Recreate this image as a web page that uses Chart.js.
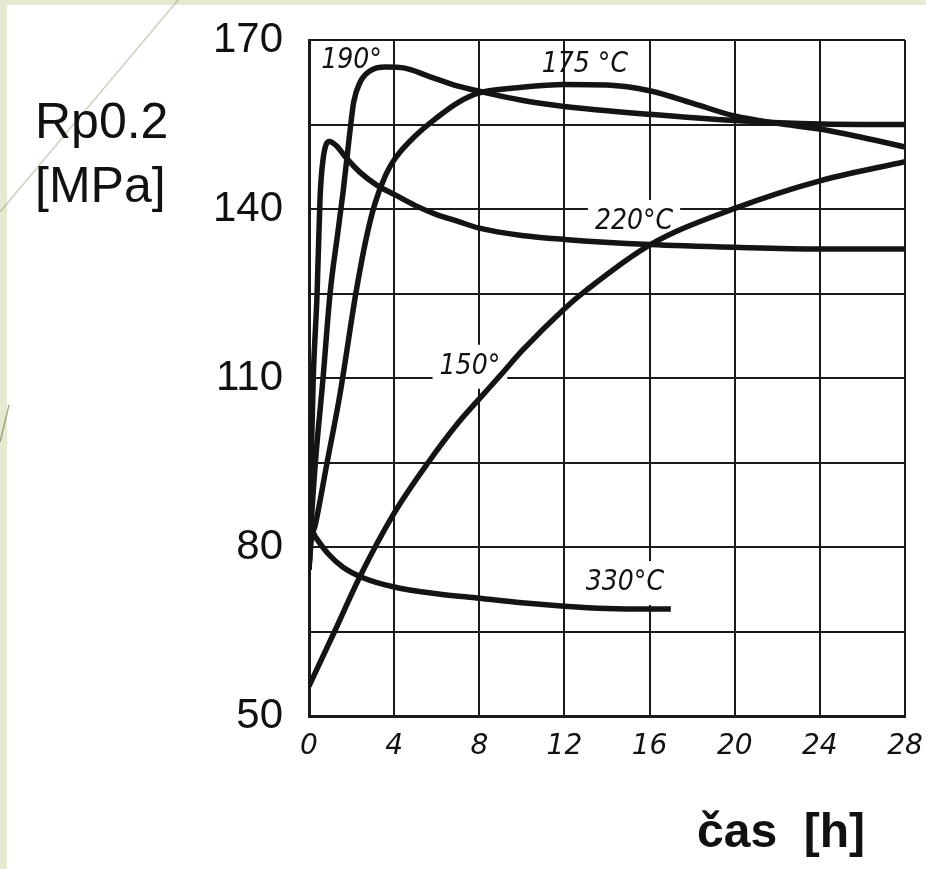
<!DOCTYPE html>
<html>
<head>
<meta charset="utf-8">
<script src="https://cdn.jsdelivr.net/npm/chart.js@4.4.1/dist/chart.umd.min.js"></script>
<style>
  html, body { margin: 0; padding: 0; background: #fff; }
  body { width: 926px; height: 869px; position: relative; overflow: hidden; font-family: 'Liberation Sans', Arial, sans-serif; }
  .pasek-l { position: absolute; left: 0; top: 0; width: 7px; height: 869px; background: #e6ead2; }
  .pasek-h { position: absolute; left: 0; top: 0; width: 926px; height: 5px; background: #e6ead2; }
  #deko { position: absolute; left: 0; top: 0; }
  #graf { position: absolute; left: 0; top: 0; }
  .popis { position: absolute; color: #111; white-space: pre; }
</style>
</head>
<body>
<div class="pasek-l"></div>
<div class="pasek-h"></div>
<svg id="deko" width="926" height="869">
  <line x1="178" y1="0" x2="0" y2="212" stroke="rgba(120,118,80,0.35)" stroke-width="1.5"/>
  <line x1="9" y1="405" x2="0" y2="442" stroke="rgba(120,118,80,0.6)" stroke-width="1.5"/>
</svg>
<canvas id="graf" width="926" height="869"></canvas>
<div class="popis" style="left:35px;top:96px;font-size:50px;line-height:50px">Rp0.2</div>
<div class="popis" style="left:35px;top:160px;font-size:50px;line-height:50px">[MPa]</div>
<div class="popis" style="left:697px;top:807px;font-size:48px;line-height:48px;font-weight:bold">čas  [h]</div>
<script>
// cas [h] a Rp0.2 [MPa], pro kazdou teplotu zvlast
const cas150 = [0, 1.2, 2.4, 4, 5.6, 7, 8, 9, 10, 12, 13, 16, 20, 24, 28];
const rp150 = [55.3, 65, 74.8, 86, 95, 102, 106.3, 110.5, 114.8, 122.3, 125.5, 133.6, 140.1, 145, 148.4];

const cas175 = [0, 0.1, 0.3, 0.85, 1.45, 2.2, 2.7, 3.1, 3.6, 4.05, 5, 6, 7, 8, 10, 12, 14, 16, 18, 20, 22, 24, 26, 28];
const rp175 = [76, 81, 84, 95, 107, 125, 135, 141, 146, 149, 153, 156.2, 158.9, 160.6, 161.6, 162.1, 162, 161, 158.8, 156.5, 155.2, 154.2, 152.7, 151];

const cas190 = [0, 0.1, 0.3, 0.66, 0.99, 1.36, 1.6, 1.9, 2.1, 2.4, 2.86, 3.6, 4.5, 5.6, 7, 8, 10, 12, 16, 20, 24, 28];
const rp190 = [76, 84, 95, 110, 125, 136, 143, 153, 159, 162.5, 164.5, 165.2, 165, 163.6, 161.8, 160.9, 159.3, 158.2, 156.8, 155.7, 155.1, 155];

const cas220 = [0, 0.05, 0.1, 0.2, 0.38, 0.52, 0.65, 0.95, 1.3, 1.7, 2.4, 3.2, 4, 5, 6, 7, 8, 10, 12, 16, 20, 24, 28];
const rp220 = [76, 85, 95, 110, 125, 142, 148.5, 152, 151.2, 149.3, 146.5, 144.2, 142.6, 140.6, 139, 137.8, 136.6, 135.3, 134.6, 133.7, 133.2, 132.9, 132.9];

const cas330 = [0, 0.1, 0.3, 0.9, 1.6, 2.5, 4, 6, 8, 10, 12, 14, 16, 17];
const rp330 = [76, 83, 81.8, 78.8, 76.4, 74.6, 72.9, 71.7, 70.9, 70.1, 69.5, 69.1, 69, 69];

const osaX = [0, 28];
const osaY = [50, 170];
const popisky = [
  { text: '190°', x: 2.0, y: 166.3, pozadi: false },
  { text: '175 °C', x: 12.96, y: 165.7, pozadi: false },
  { text: '220°C', x: 15.27, y: 137.7, pozadi: true },
  { text: '150°', x: 7.56, y: 112.0, pozadi: true },
  { text: '330°C', x: 14.84, y: 73.6, pozadi: true }
];

const krivky = [
  [cas150, rp150], [cas175, rp175], [cas190, rp190], [cas220, rp220], [cas330, rp330]
];

const popiskyPlugin = {
  id: 'popisky',
  beforeDatasetsDraw(chart) {
    const { ctx, scales: { x, y } } = chart;
    ctx.save();
    ctx.font = 'italic 28px "DejaVu Sans Condensed", "DejaVu Sans"';
    ctx.textAlign = 'center';
    ctx.textBaseline = 'middle';
    popisky.forEach(p => {
      const px = x.getPixelForValue(p.x);
      const py = y.getPixelForValue(p.y);
      if (p.pozadi) {
        const w = ctx.measureText(p.text).width + 14;
        ctx.fillStyle = '#fff';
        ctx.fillRect(px - w / 2, py - 22, w, 44);
      }
      ctx.fillStyle = '#111';
      ctx.fillText(p.text, px, py);
    });
    ctx.restore();
  }
};

const cara = '#1a1a1a';

new Chart(document.getElementById('graf'), {
  type: 'line',
  data: {
    datasets: krivky.map(([c, r]) => ({
      data: c.map((t, i) => ({ x: t, y: r[i] })),
      borderColor: '#141414',
      borderWidth: 5.5,
      pointRadius: 0,
      fill: false,
      cubicInterpolationMode: 'monotone'
    }))
  },
  options: {
    responsive: false,
    animation: false,
    layout: { padding: { top: 40, right: 21, left: 0, bottom: 0 } },
    plugins: { legend: { display: false }, tooltip: { enabled: false } },
    scales: {
      x: {
        type: 'linear',
        min: osaX[0],
        max: osaX[1],
        ticks: {
          stepSize: 4,
          autoSkip: false,
          maxRotation: 0,
          color: '#111',
          padding: 14,
          font: { family: 'DejaVu Sans', style: 'italic', size: 28 }
        },
        grid: { color: cara, lineWidth: 2, drawTicks: false },
        border: { color: cara, width: 3 },
        afterFit: s => { s.height = 153; s.paddingLeft = 0; s.paddingRight = 0; }
      },
      y: {
        type: 'linear',
        min: osaY[0],
        max: osaY[1],
        ticks: {
          stepSize: 15,
          autoSkip: false,
          color: '#111',
          padding: 26,
          font: { family: 'Liberation Sans', size: 42 },
          callback: v => ((v - 50) % 30 === 0 ? v : '')
        },
        grid: { color: cara, lineWidth: 2, drawTicks: false },
        border: { color: cara, width: 3 },
        afterFit: s => { s.width = 309; s.paddingTop = 0; s.paddingBottom = 0; }
      }
    }
  },
  plugins: [popiskyPlugin]
});
</script>
</body>
</html>
